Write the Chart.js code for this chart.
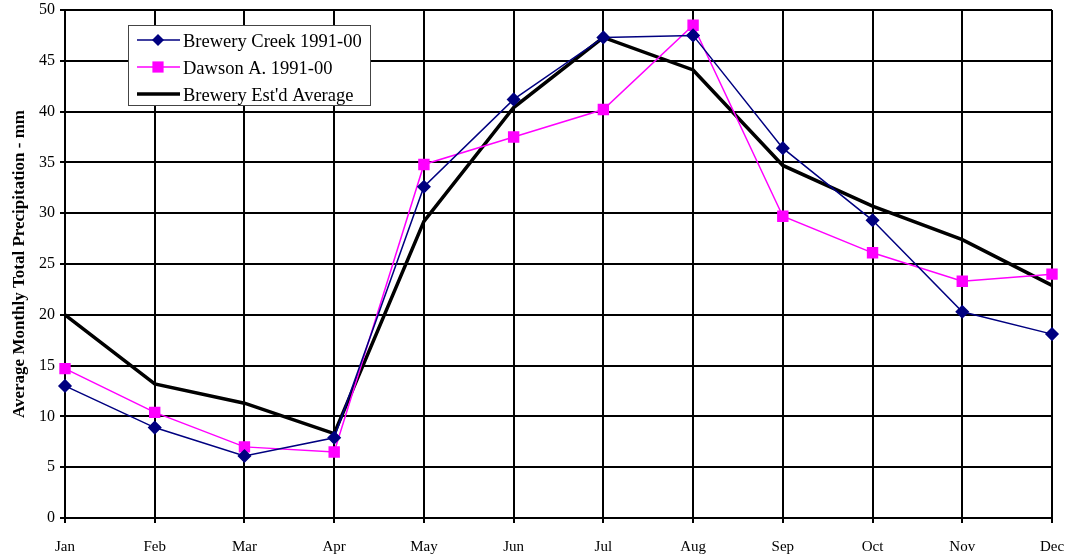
<!DOCTYPE html>
<html>
<head>
<meta charset="utf-8">
<script src="https://cdn.jsdelivr.net/npm/chart.js@4/dist/chart.umd.min.js"></script>
<style>
  html, body { margin: 0; padding: 0; background: #fff; }
  #wrap { width: 1068px; height: 557px; }
</style>
</head>
<body>
<div id="wrap"><canvas id="precipChart"></canvas></div>
<script>
const months = ['Jan', 'Feb', 'Mar', 'Apr', 'May', 'Jun', 'Jul', 'Aug', 'Sep', 'Oct', 'Nov', 'Dec'];
const breweryCreek = [13.0, 8.9, 6.1, 7.9, 32.6, 41.2, 47.3, 47.5, 36.4, 29.3, 20.3, 18.1];
const dawson = [14.7, 10.4, 7.0, 6.5, 34.8, 37.5, 40.2, 48.5, 29.7, 26.1, 23.3, 24.0];
const breweryEst = [20.0, 13.2, 11.3, 8.3, 29.2, 40.4, 47.3, 44.1, 34.7, 30.7, 27.4, 22.9];
const yTicks = [0, 5, 10, 15, 20, 25, 30, 35, 40, 45, 50];

const serif = '"Liberation Serif", "Times New Roman", serif';

// legend box drawn inside the plot, like the original
const boxLegend = {
    id: 'boxLegend',
    afterDraw(chart) {
        const ctx = chart.ctx;
        const x = 128, y = 25, w = 242, h = 80;
        ctx.save();
        ctx.fillStyle = '#fff';
        ctx.fillRect(x, y, w, h);
        ctx.strokeStyle = '#444';
        ctx.lineWidth = 1;
        ctx.strokeRect(x + 0.5, y + 0.5, w, h);
        ctx.font = '18.5px ' + serif;
        ctx.textBaseline = 'middle';
        chart.data.datasets.forEach((ds, i) => {
            const ly = y + 15 + i * 27;
            ctx.strokeStyle = ds.borderColor;
            ctx.lineWidth = ds.borderWidth;
            ctx.beginPath();
            ctx.moveTo(x + 9, ly);
            ctx.lineTo(x + 52, ly);
            ctx.stroke();
            if (ds.pointRadius > 0) {
                ctx.fillStyle = ds.pointBackgroundColor;
                const r = ds.pointRadius;
                ctx.beginPath();
                if (ds.pointStyle === 'rectRot') {
                    ctx.moveTo(x + 30, ly - r);
                    ctx.lineTo(x + 30 + r, ly);
                    ctx.lineTo(x + 30, ly + r);
                    ctx.lineTo(x + 30 - r, ly);
                } else {
                    ctx.rect(x + 30 - r * 0.8, ly - r * 0.8, r * 1.6, r * 1.6);
                }
                ctx.fill();
            }
            ctx.fillStyle = '#000';
            ctx.fillText(ds.label, x + 55, ly + 2);
        });
        ctx.restore();
    }
};

const ctx = document.getElementById('precipChart').getContext('2d');
new Chart(ctx, {
    type: 'line',
    data: {
        labels: months,
        datasets: [{
            label: 'Brewery Creek 1991-00',
            data: breweryCreek,
            borderColor: '#000080',
            backgroundColor: '#000080',
            pointBackgroundColor: '#000080',
            pointBorderColor: '#000080',
            borderWidth: 1.5,
            pointStyle: 'rectRot',
            pointRadius: 6,
            tension: 0
        }, {
            label: 'Dawson A. 1991-00',
            data: dawson,
            borderColor: '#ff00ff',
            backgroundColor: '#ff00ff',
            pointBackgroundColor: '#ff00ff',
            pointBorderColor: '#ff00ff',
            borderWidth: 1.5,
            pointStyle: 'rect',
            pointRadius: 7,
            tension: 0
        }, {
            label: "Brewery Est'd Average",
            data: breweryEst,
            borderColor: '#000',
            backgroundColor: '#000',
            borderWidth: 3.5,
            pointRadius: 0,
            tension: 0
        }]
    },
    options: {
        responsive: true,
        maintainAspectRatio: false,
        animation: false,
        layout: { padding: { top: 10, right: 16, left: 0, bottom: 0 } },
        plugins: {
            legend: { display: false },
            tooltip: { enabled: false }
        },
        scales: {
            x: {
                offset: false,
                afterFit(scale) {
                    scale.height = 39;
                    scale.paddingLeft = 0;
                    scale.paddingRight = 0;
                },
                grid: { color: '#000', lineWidth: 2, tickLength: 5, drawOnChartArea: true },
                border: { color: '#000', width: 2 },
                ticks: {
                    color: '#000',
                    font: { family: serif, size: 15 },
                    maxRotation: 0,
                    padding: 15
                }
            },
            y: {
                min: 0,
                max: 50,
                afterFit(scale) {
                    scale.width = 65;
                    scale.paddingTop = 0;
                    scale.paddingBottom = 0;
                },
                afterBuildTicks(scale) { scale.ticks = yTicks.map(v => ({ value: v })); },
                grid: { color: '#000', lineWidth: 2, tickLength: 5 },
                border: { color: '#000', width: 2 },
                ticks: {
                    color: '#000',
                    font: { family: serif, size: 16 },
                    padding: 5
                },
                title: {
                    display: true,
                    text: 'Average Monthly Total Precipitation - mm',
                    color: '#000',
                    font: { family: serif, size: 17, weight: 'bold' },
                    padding: { top: 9, bottom: 4 }
                }
            }
        }
    },
    plugins: [boxLegend]
});
</script>
</body>
</html>
